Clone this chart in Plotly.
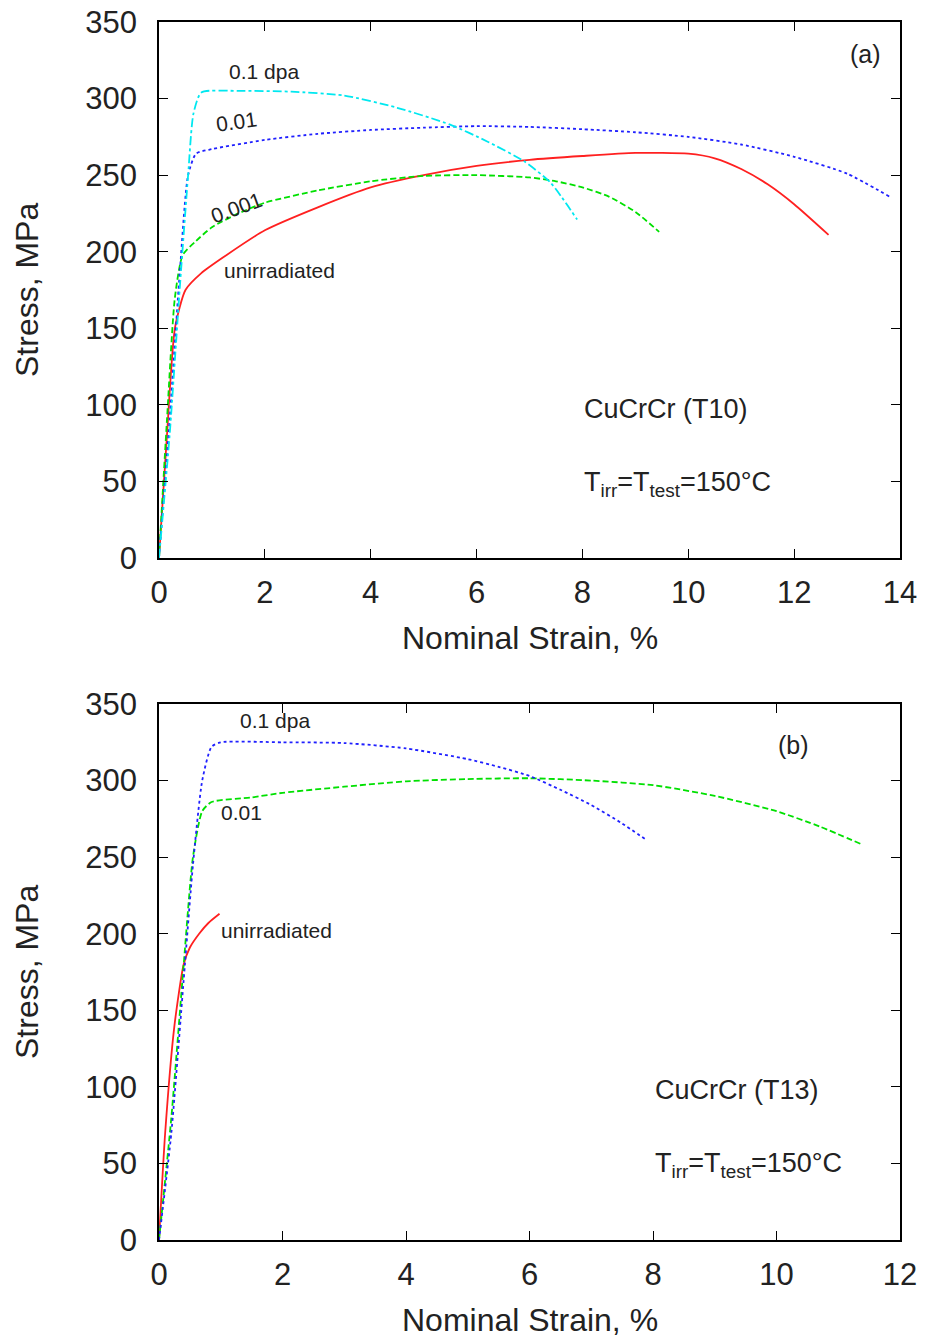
import plotly.graph_objects as go

# ---- panel (a): CuCrCr (T10) ----
a_unirr_x = [0, 0.15, 0.3, 0.5, 0.8, 1.2, 2, 3, 4, 5, 6, 7, 8, 9, 10, 10.5, 11, 11.5, 12, 12.65]
a_unirr_y = [0, 80, 150, 175, 186, 196, 214, 229, 242, 250, 256, 260, 262.5, 264.5, 264, 261, 254, 244, 231, 211]

a_001_x = [0, 0.15, 0.3, 0.45, 0.7, 1, 1.5, 2, 3, 4, 5, 6, 7, 7.5, 8, 8.5, 9, 9.45]
a_001_y = [0, 90, 170, 198, 207, 216, 225, 232, 240, 246, 249.5, 250, 248.5, 246, 242, 236, 226, 213]

a_01_x = [0, 0.2, 0.4, 0.55, 0.7, 1, 2, 3, 4, 5, 6, 7, 8, 9, 10, 11, 12, 13, 13.8]
a_01_y = [0, 90, 190, 250, 264, 267, 273, 277, 279.5, 281, 282, 281.5, 280, 278, 275, 270, 262, 251, 236]

a_1_x = [0, 0.2, 0.4, 0.55, 0.65, 0.8, 1.5, 2.5, 3.5, 4.5, 5.5, 6.2, 6.9, 7.4, 7.9]
a_1_y = [0, 80, 180, 250, 290, 304, 305, 304.5, 302, 294, 283, 272, 259, 245, 221]

# ---- panel (b): CuCrCr (T13) ----
b_unirr_x = [0, 0.1, 0.25, 0.4, 0.5, 0.65, 0.8, 0.98]
b_unirr_y = [0, 70, 140, 180, 191, 200, 207, 213]

b_01_x = [0, 0.2, 0.4, 0.55, 0.7, 0.85, 1.5, 2, 3, 4, 5, 6, 7, 8, 9, 10, 10.7, 11.4]
b_01_y = [0, 80, 180, 250, 280, 286, 289, 292, 296, 299.5, 301, 301.5, 300, 297, 290, 280, 270, 258]

b_1_x = [0, 0.2, 0.4, 0.55, 0.7, 0.85, 1, 2, 3, 4, 5, 5.5, 6, 6.5, 7, 7.5, 7.9]
b_1_y = [0, 70, 170, 245, 300, 322, 325, 325, 324.5, 321, 314, 309, 303, 294, 284, 272, 261]

FONT = "Liberation Sans, Arial, sans-serif"
TXT = "#222222"

fig = go.Figure()

def add_curve(x, y, color, dash, xa, ya):
    fig.add_trace(go.Scatter(x=x, y=y, mode="lines", xaxis=xa, yaxis=ya,
                             line=dict(color=color, width=1.8, dash=dash, shape="spline", smoothing=0.6),
                             showlegend=False, hoverinfo="skip"))

add_curve(a_unirr_x, a_unirr_y, "#ff2020", "solid", "x", "y")
add_curve(a_001_x, a_001_y, "#00e000", "6px,3px", "x", "y")
add_curve(a_01_x, a_01_y, "#2020ff", "dot", "x", "y")
add_curve(a_1_x, a_1_y, "#00e8f0", "dashdot", "x", "y")

add_curve(b_unirr_x, b_unirr_y, "#ff2020", "solid", "x2", "y2")
add_curve(b_01_x, b_01_y, "#00e000", "6px,3px", "x2", "y2")
add_curve(b_1_x, b_1_y, "#2020ff", "dot", "x2", "y2")

W, H = 927, 1338
OFF = 8  # page body margin shifts everything by 8px
xdom = [(159 - OFF) / W, (900 - OFF) / W]
ya_dom = [(H - 558 + OFF) / H, (H - 22 + OFF) / H]
yb_dom = [(H - 1240 + OFF) / H, (H - 704 + OFF) / H]

axis_common = dict(showline=True, linecolor="black", linewidth=1.5, mirror="ticks",
                   ticks="inside", ticklen=9, tickwidth=1.3, tickcolor="black",
                   showgrid=False, zeroline=False, automargin=False,
                   ticklabeloverflow="allow",
                   tickfont=dict(family=FONT, size=31, color=TXT))

fig.update_layout(
    width=W, height=H,
    margin=dict(l=0, r=0, t=0, b=0),
    paper_bgcolor="white", plot_bgcolor="white",
    xaxis=dict(domain=xdom, range=[0, 14], dtick=2, anchor="y", ticklabelstandoff=6, **axis_common),
    yaxis=dict(domain=ya_dom, range=[0, 350], dtick=50, anchor="x", ticklabelstandoff=14, **axis_common),
    xaxis2=dict(domain=xdom, range=[0, 12], dtick=2, anchor="y2", ticklabelstandoff=6, **axis_common),
    yaxis2=dict(domain=yb_dom, range=[0, 350], dtick=50, anchor="x2", ticklabelstandoff=14, **axis_common),
)

def note(text, x, y, xref, yref, size, angle=0, xanchor="left"):
    fig.add_annotation(text=text, x=x, y=y, xref=xref, yref=yref, showarrow=False,
                       xanchor=xanchor, yanchor="middle", textangle=angle,
                       font=dict(family=FONT, size=size, color=TXT))

# panel (a) labels
note("0.1 dpa", 1.28, 318, "x", "y", 21)
note("0.01", 1.47, 285, "x", "y", 21, angle=-8, xanchor="center")
note("0.001", 1.47, 229, "x", "y", 21, angle=-20, xanchor="center")
note("unirradiated", 1.19, 188, "x", "y", 21)
note("(a)", 13.35, 329, "x", "y", 25, xanchor="center")
note("CuCrCr (T10)", 8.0, 97, "x", "y", 27)
note("T<sub>irr</sub>=T<sub>test</sub>=150°C", 8.0, 48, "x", "y", 27)

# panel (b) labels
note("0.1 dpa", 1.28, 339, "x2", "y2", 21)
note("0.01", 0.97, 279, "x2", "y2", 21)
note("unirradiated", 0.97, 202, "x2", "y2", 21)
note("(b)", 10.27, 323, "x2", "y2", 25, xanchor="center")
note("CuCrCr (T13)", 8.0, 98, "x2", "y2", 27)
note("T<sub>irr</sub>=T<sub>test</sub>=150°C", 8.0, 49, "x2", "y2", 27)

# axis titles
for ytitle, xtitle in [(290, 638), (972, 1320)]:
    fig.add_annotation(text="Stress, MPa", x=(27 - OFF) / W, y=(H - ytitle + OFF) / H, xref="paper", yref="paper",
                       showarrow=False, textangle=-90, xanchor="center", yanchor="middle",
                       font=dict(family=FONT, size=32, color=TXT))
    fig.add_annotation(text="Nominal Strain, %", x=(530 - OFF) / W, y=(H - xtitle + OFF) / H, xref="paper", yref="paper",
                       showarrow=False, xanchor="center", yanchor="middle",
                       font=dict(family=FONT, size=32, color=TXT))

fig.write_html("out.html")
